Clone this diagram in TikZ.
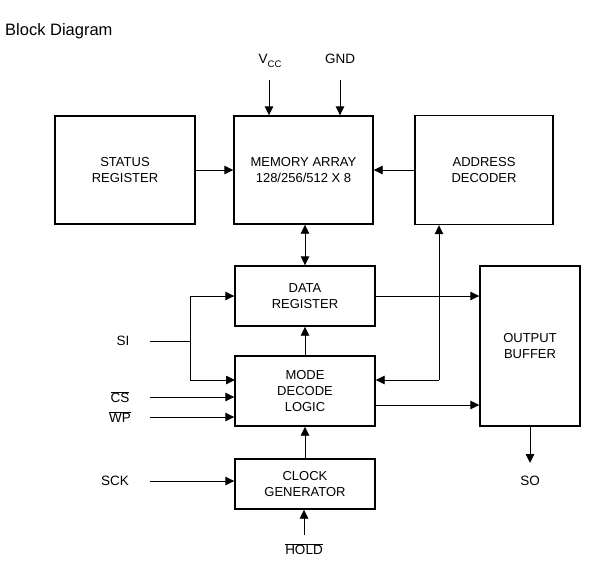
\documentclass[tikz,border=0pt]{standalone}
\usepackage{fontspec}
\setmainfont{Liberation Sans}
\usetikzlibrary{arrows.meta}
\begin{document}
\begin{tikzpicture}[x=1pt,y=-1pt,
  blk/.style={draw,line width=1.4pt,minimum width=#1,inner sep=0pt,align=center,font=\fontsize{13}{16}\selectfont},
  lbl/.style={inner sep=0pt,font=\fontsize{13.5}{15}\selectfont},
  arr/.style={line width=0.9pt,-{Triangle[length=9pt,width=8.5pt]}},
  ln/.style={line width=0.9pt}]
\path[use as bounding box] (0,0) rectangle (604,563);
\node[anchor=base west,inner sep=0pt,font=\fontsize{16.5}{18}\selectfont] (title) at (5,35) {Block Diagram};
\node[blk=140pt,minimum height=108pt] (status) at (125,170) {STATUS\\REGISTER};
\node[blk=139pt,minimum height=108pt] (memory) at (303.5,170) {MEMORY ARRAY\\128/256/512 X 8};
\node[blk=138pt,minimum height=109pt] (address) at (484,170) {ADDRESS\\DECODER};
\node[blk=140pt,minimum height=60pt] (data) at (305,296) {DATA\\REGISTER};
\node[blk=140pt,minimum height=70pt] (mode) at (305,391) {MODE\\DECODE\\LOGIC};
\node[blk=140pt,minimum height=50pt] (clock) at (305,484) {CLOCK\\GENERATOR};
\node[blk=100pt,minimum height=160pt] (output) at (530,346) {OUTPUT\\BUFFER};
% labels
\node[lbl] (vcc) at (270,61) {V\raisebox{-0.5ex}{\fontsize{9.5}{10}\selectfont CC}};
\node[lbl] (gnd) at (340,59) {GND};
\node[lbl] (si) at (123,341) {SI};
\node[lbl] (cs) at (120,397) {$\overline{\mbox{CS}}$};
\node[lbl] (wp) at (120,417) {$\overline{\mbox{WP}}$};
\node[lbl] (sck) at (115,481) {SCK};
\node[lbl] (hold) at (304,549) {$\overline{\mbox{HOLD}}$};
\node[lbl] (so) at (530,481) {SO};
% coordinates
\coordinate (vtop) at (269,80);
\coordinate (gtop) at (340,80);
\coordinate (sistart) at (150,341);
\coordinate (sj) at (190,341);
\coordinate (modein) at (235,380);
\coordinate (csstart) at (150,397);
\coordinate (wpstart) at (150,417);
\coordinate (sckstart) at (150,481);
\coordinate (holdstart) at (304,535);
\coordinate (soend) at (530,463);
\coordinate (j) at (439,380);
\coordinate (mout) at (375,405);
\coordinate (datout) at (375,296);
% connectors
\draw[arr] (vtop) -- (vtop |- memory.north);
\draw[arr] (gtop) -- (gtop |- memory.north);
\draw[arr] (status.east) -- (memory.west);
\draw[arr] (address.west) -- (memory.east);
\draw[line width=0.9pt,{Triangle[length=9pt,width=8.5pt]}-{Triangle[length=9pt,width=8.5pt]}] (memory.south -| data.north) -- (data.north);
\draw[arr] (datout) -- (datout -| output.west);
\draw[arr] (mode.north) -- (data.south);
\draw[arr] (clock.north) -- (mode.south);
\draw[arr] (mout) -- (mout -| output.west);
\draw[arr] (j) -- (j |- address.south);
\draw[arr] (j) -- (j -| mode.east);
\draw[ln] (sistart) -- (sj);
\draw[arr] (sj) |- (data.west);
\draw[arr] (sj) |- (modein);
\draw[arr] (csstart) -- (csstart -| mode.west);
\draw[arr] (wpstart) -- (wpstart -| mode.west);
\draw[arr] (sckstart) -- (sckstart -| clock.west);
\draw[arr] (holdstart) -- (holdstart |- clock.south);
\draw[arr] (output.south -| soend) -- (soend);
\end{tikzpicture}
\end{document}
